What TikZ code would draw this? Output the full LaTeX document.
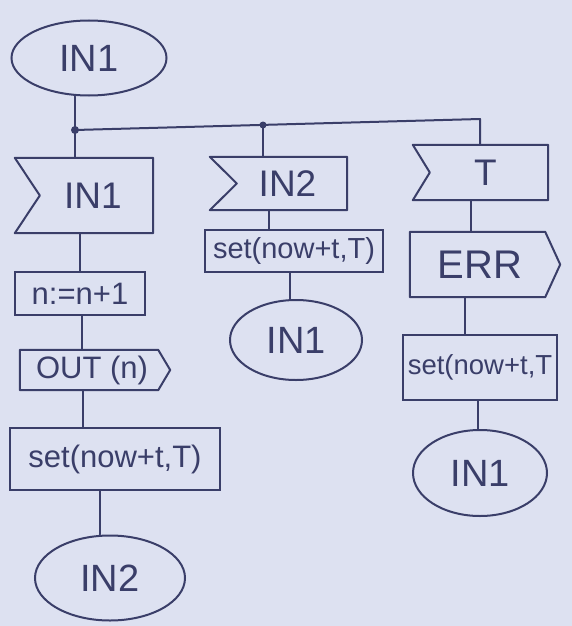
\documentclass[tikz,border=0pt]{standalone}
\usepackage{fontspec}
\setmainfont{Liberation Sans}
\usetikzlibrary{calc,shapes.geometric}
\definecolor{ink}{RGB}{58,62,105}
\definecolor{paper}{RGB}{221,225,241}
\begin{document}
\begin{tikzpicture}[x=1pt,y=-1pt,
  edge/.style={draw=ink,line width=2pt,line join=round,line cap=round},
  term/.style={ellipse,draw=ink,line width=2pt,text=ink,inner sep=0pt,font=\fontsize{38}{44}\selectfont},
  taskbox/.style={rectangle,draw=ink,line width=2pt,text=ink,inner sep=0pt},
  sigshape/.style={rectangle,draw=none,text=ink,inner sep=0pt},
  big/.style={font=\fontsize{37}{42}\selectfont},
  mid/.style={font=\fontsize{31}{36}\selectfont}]
\fill[paper] (0,0) rectangle (572,626);
\useasboundingbox (0,0) rectangle (572,626);

% start
\node[term,minimum width=155,minimum height=75] (top) at (89,58) {IN1};
\coordinate (J) at (75,130);
\coordinate (J2) at (263,125);
\coordinate (C3) at (480,119);

% left column
\node[sigshape,big,minimum width=138,minimum height=75] (in1) at (84,195.5) {\hspace*{18pt}IN1};
\node[taskbox,mid,minimum width=130,minimum height=43] (n) at (80,293.5) {n:=n+1};
\node[sigshape,mid,minimum width=150,minimum height=40] (out) at (95,370) {OUT (n)\hspace*{6pt}};
\node[taskbox,font=\fontsize{31}{36}\selectfont,minimum width=210,minimum height=62] (set1) at (115,459) {set(now+t,T)};
\node[term,minimum width=150,minimum height=85] (e2) at (110,578) {IN2};

% middle column
\node[sigshape,big,minimum width=137,minimum height=53] (in2) at (278.5,183.5) {\hspace*{18pt}IN2};
\node[taskbox,font=\fontsize{29}{34}\selectfont,minimum width=178,minimum height=42] (set2) at (294,251) {set(now+t,T)};
\node[term,minimum width=132,minimum height=80] (eb) at (296,340) {IN1};

% right column
\node[sigshape,big,minimum width=135,minimum height=55] (T) at (480.5,172.5) {\hspace*{10pt}T};
\node[sigshape,font=\fontsize{40}{46}\selectfont,minimum width=150,minimum height=65] (err) at (485,264.5) {ERR\hspace*{10pt}};
\node[taskbox,font=\fontsize{27.5}{32}\selectfont,minimum width=154,minimum height=65] (set3) at (480,367.5) {set(now+t,T};
\node[term,minimum width=134,minimum height=86] (ec) at (480,473) {IN1};

% input symbols (notched left side)
\draw[edge] (in1.north west) -- (in1.north east) -- (in1.south east) -- (in1.south west) -- ($(in1.west)+(25,0)$) -- cycle;
\draw[edge] (in2.north west) -- (in2.north east) -- (in2.south east) -- (in2.south west) -- ($(in2.west)+(27,0)$) -- cycle;
\draw[edge] (T.north west) -- (T.north east) -- (T.south east) -- (T.south west) -- ($(T.west)+(17,0)$) -- cycle;
% output symbols (pointed right side)
\draw[edge] (out.north west) -- ($(out.north east)+(-12,0)$) -- (out.east) -- ($(out.south east)+(-12,0)$) -- (out.south west) -- cycle;
\draw[edge] (err.north west) -- ($(err.north east)+(-15,0)$) -- (err.east) -- ($(err.south east)+(-15,0)$) -- (err.south west) -- cycle;

% connectors
\draw[edge] (top.south -| J) -- (J);
\draw[edge] (J) -- (C3) -- (C3 |- T.north);
\draw[edge] (J) -- (J |- in1.north);
\draw[edge] (J2) -- (J2 |- in2.north);
\fill[ink] (J) circle (4);
\fill[ink] (J2) circle (3.5);

\draw[edge] (n.north |- in1.south) -- (n.north);
\draw[edge] ([xshift=2]n.south) -- ([xshift=2]n.south |- out.north);
\draw[edge] ([xshift=3]n.south |- out.south) -- ([xshift=3]n.south |- set1.north);
\draw[edge] ([xshift=-15]set1.south) -- ([xshift=-15]set1.south |- e2.north);

\draw[edge] ([xshift=-10]in2.south) -- ([xshift=-10]in2.south |- set2.north);
\draw[edge] ([xshift=-4]set2.south) -- ([xshift=-4]set2.south |- eb.north);

\draw[edge] ([xshift=-10]T.south) -- ([xshift=-10]T.south |- err.north);
\draw[edge] ([xshift=-20]err.south) -- ([xshift=-20]err.south |- set3.north);
\draw[edge] ([xshift=-2]set3.south) -- ([xshift=-2]set3.south |- ec.north);
\end{tikzpicture}
\end{document}
